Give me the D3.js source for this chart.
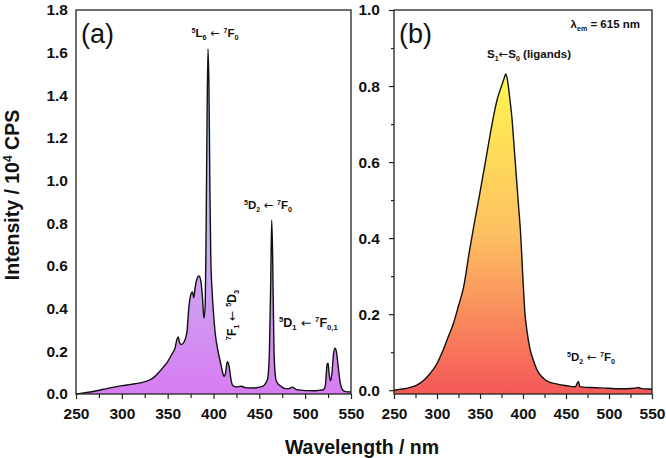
<!DOCTYPE html>
<html lang="en">
<head>
<meta charset="UTF-8">
<title>Excitation spectra</title>
<script src="https://d3js.org/d3.v7.min.js"></script>
<style>
  body { margin: 0; background: #fff; }
  svg { font-family: Arial, "Liberation Sans", sans-serif; }
</style>
</head>
<body>
<svg></svg>
<script>
    // (a) excitation spectrum, intensity / 10^4 CPS
    const wlA = [250, 255, 260, 270, 280, 290, 300, 310, 320, 330, 335, 340, 345, 350, 355, 358, 360, 361.5, 363, 365,
        368, 371, 373, 375, 377, 378.5, 380, 382, 384, 386, 388, 389.5, 391, 392, 393, 394, 395, 396, 397, 398.5,
        400, 402, 405, 408, 410, 411.5, 413, 415, 417, 419, 421, 425, 430, 435, 440, 445, 450, 455, 459, 461,
        462.5, 463.5, 464.5, 466, 468, 470, 474, 478, 482, 486, 490, 495, 500, 505, 510, 515, 520, 522, 524, 525,
        526, 527.5, 529, 531, 532.5, 534, 536, 538, 540, 543, 546, 550];
    const intA = [0.000, 0.003, 0.006, 0.013, 0.022, 0.031, 0.039, 0.045, 0.052, 0.065, 0.078, 0.100, 0.125, 0.152, 0.190, 0.215, 0.255, 0.268, 0.240, 0.232,
        0.245, 0.290, 0.400, 0.462, 0.478, 0.452, 0.500, 0.540, 0.553, 0.535, 0.450, 0.355, 0.420, 0.800, 1.300, 1.618, 1.450, 1.000, 0.650, 0.480,
        0.380, 0.280, 0.200, 0.140, 0.100, 0.082, 0.095, 0.151, 0.130, 0.070, 0.040, 0.033, 0.036, 0.030, 0.028, 0.028, 0.032, 0.040, 0.070, 0.200,
        0.550, 0.815, 0.650, 0.200, 0.070, 0.050, 0.035, 0.025, 0.025, 0.032, 0.022, 0.018, 0.016, 0.016, 0.015, 0.017, 0.020, 0.040, 0.140, 0.144,
        0.100, 0.062, 0.090, 0.190, 0.215, 0.200, 0.130, 0.060, 0.025, 0.012, 0.010, 0.010];

    // (b) excitation spectrum, lambda_em = 615 nm
    const wlB = [250, 260, 270, 276, 285, 292, 300, 307, 313, 319, 325, 331, 338, 344, 350, 358, 364, 370, 375, 378,
        380, 382, 385, 387, 390, 393, 395, 397, 400, 402, 405, 408, 412, 417, 424, 430, 440, 447, 455, 461,
        463, 464.5, 466, 470, 480, 490, 500, 510, 520, 530, 534, 538, 545, 550];
    const intB = [0.000, 0.003, 0.008, 0.013, 0.027, 0.044, 0.070, 0.105, 0.140, 0.175, 0.222, 0.272, 0.370, 0.447, 0.520, 0.623, 0.700, 0.765, 0.800, 0.820,
        0.832, 0.815, 0.760, 0.720, 0.630, 0.540, 0.480, 0.420, 0.290, 0.210, 0.150, 0.110, 0.079, 0.050, 0.031, 0.022, 0.016, 0.013, 0.010, 0.009,
        0.018, 0.023, 0.010, 0.008, 0.007, 0.006, 0.005, 0.004, 0.004, 0.005, 0.007, 0.004, 0.003, 0.003];

    const xTicks = [250, 300, 350, 400, 450, 500, 550];
    const yTicksA = [0.0, 0.2, 0.4, 0.6, 0.8, 1.0, 1.2, 1.4, 1.6, 1.8];
    const yTicksB = [0.0, 0.2, 0.4, 0.6, 0.8, 1.0];

    const width = 666, height = 458;
    const svg = d3.select("svg").attr("width", width).attr("height", height);

    const plotTop = 10, plotBottom = 394;

    // gradients
    const defs = svg.append("defs");
    function gradient(id, y1, y2, stops) {
        const g = defs.append("linearGradient").attr("id", id)
            .attr("gradientUnits", "userSpaceOnUse")
            .attr("x1", 0).attr("x2", 0).attr("y1", y1).attr("y2", y2);
        stops.forEach(s => g.append("stop").attr("offset", s[0]).attr("stop-color", s[1]));
    }

    // text with sub/superscripts, "arr" parts use a font with a proper long arrow
    function rich(parent, x, y, parts, size, anchor, rot) {
        const t = parent.append("text")
            .attr("x", x).attr("y", y)
            .attr("text-anchor", anchor || "start")
            .attr("font-weight", "bold")
            .attr("font-size", size)
            .attr("fill", "#111");
        if (rot) t.attr("transform", `rotate(${rot},${x},${y})`);
        let shift = 0;
        parts.forEach(p => {
            let s = 0, fs = size;
            if (p[1] === "sup") { s = -size * 0.38; fs = size * 0.62; }
            if (p[1] === "sub") { s = size * 0.25; fs = size * 0.62; }
            const ts = t.append("tspan").attr("dy", s - shift).attr("font-size", fs).text(p[0]);
            if (p[1] === "arr") ts.attr("font-family", "'DejaVu Sans', sans-serif").attr("font-weight", "normal");
            shift = s;
        });
        return t;
    }

    function panel(cfg) {
        const x = d3.scaleLinear().domain([250, 550]).range([cfg.left, cfg.right]);
        const y = d3.scaleLinear().domain(cfg.yDomain).range([plotBottom, plotTop]);
        const data = cfg.wl.map((w, i) => ({w: w, v: cfg.val[i]}));
        const g = svg.append("g");

        gradient(cfg.id, y(cfg.gradTop), plotBottom, cfg.stops);

        const area = d3.area().x(d => x(d.w)).y0(plotBottom).y1(d => y(d.v)).curve(d3.curveMonotoneX);
        const line = d3.line().x(d => x(d.w)).y(d => y(d.v)).curve(d3.curveMonotoneX);

        g.append("path").datum(data).attr("d", area).attr("fill", `url(#${cfg.id})`);
        g.append("path").datum(data).attr("d", line)
            .attr("fill", "none").attr("stroke", "#111").attr("stroke-width", 1.4);

        // frame
        g.append("rect").attr("x", cfg.left).attr("y", plotTop)
            .attr("width", cfg.right - cfg.left).attr("height", plotBottom - plotTop)
            .attr("fill", "none").attr("stroke", "#222").attr("stroke-width", 1.3);

        // x axis
        const xAxis = d3.axisBottom(x).tickValues(xTicks).tickSize(5).tickPadding(9)
            .tickFormat(d3.format("d"));
        const ax = g.append("g").attr("transform", `translate(0,${plotBottom})`).call(xAxis);
        ax.select(".domain").remove();
        ax.selectAll("text").attr("font-size", 15.5).attr("font-weight", "bold")
            .attr("font-family", "Arial, 'Liberation Sans', sans-serif").attr("fill", "#111");
        ax.selectAll("line").attr("stroke", "#222").attr("stroke-width", 1.2);
        const minor = d3.axisBottom(x).tickValues(d3.range(275, 550, 50)).tickSize(4).tickFormat("");
        const mx = g.append("g").attr("transform", `translate(0,${plotBottom})`).call(minor);
        mx.select(".domain").remove();
        mx.selectAll("line").attr("stroke", "#222").attr("stroke-width", 1.2);

        // y axis
        const yAxis = d3.axisLeft(y).tickValues(cfg.yTicks).tickSize(cfg.yTickSize)
            .tickPadding(cfg.yPad).tickFormat(d3.format(".1f"));
        const ay = g.append("g").attr("transform", `translate(${cfg.left},0)`).call(yAxis);
        ay.select(".domain").remove();
        ay.selectAll("text").attr("font-size", 15.5).attr("font-weight", "bold")
            .attr("font-family", "Arial, 'Liberation Sans', sans-serif").attr("fill", "#111");
        ay.selectAll("line").attr("stroke", "#222").attr("stroke-width", 1.2);
        if (cfg.yMinor) {
            const ym = d3.axisLeft(y).tickValues(cfg.yMinor).tickSize(3).tickFormat("");
            const aym = g.append("g").attr("transform", `translate(${cfg.left},0)`).call(ym);
            aym.select(".domain").remove();
            aym.selectAll("line").attr("stroke", "#222").attr("stroke-width", 1.2);
        }

        // panel label
        g.append("text").attr("x", cfg.left + 5).attr("y", 43)
            .attr("font-size", 27).attr("fill", "#111").text(cfg.label);
        return g;
    }

    const gA = panel({
        id: "gradA", left: 76, right: 351, yDomain: [0, 1.8], yTicks: yTicksA,
        yTickSize: 0, yPad: 8, wl: wlA, val: intA, label: "(a)", gradTop: 1.6,
        stops: [[0, "#a8dcf0"], [0.55, "#c9b2f2"], [1, "#d77cf2"]]
    });
    const gB = panel({
        id: "gradB", left: 394, right: 652, yDomain: [-0.01, 1.0], yTicks: yTicksB,
        yTickSize: 5, yPad: 9, yMinor: [0.1, 0.3, 0.5, 0.7, 0.9], wl: wlB, val: intB, label: "(b)", gradTop: 0.83,
        stops: [[0, "#fff650"], [0.5, "#fdc062"], [1, "#f55858"]]
    });

    const arrow = [" \u2190 ", "arr"];

    // annotations (a)
    rich(gA, 215, 37, [["5", "sup"], ["L"], ["6", "sub"], arrow, ["7", "sup"], ["F"], ["0", "sub"]], 11.5, "middle");
    rich(gA, 268, 209, [["5", "sup"], ["D"], ["2", "sub"], arrow, ["7", "sup"], ["F"], ["0", "sub"]], 11.5, "middle");
    rich(gA, 236, 315, [["7", "sup"], ["F"], ["1", "sub"], arrow, ["5", "sup"], ["D"], ["3", "sub"]], 12, "middle", -90);
    rich(gA, 279, 327, [["5", "sup"], ["D"], ["1", "sub"], arrow, ["7", "sup"], ["F"], ["0,1", "sub"]], 12.5, "start");

    // annotations (b)
    rich(gB, 640, 28, [["\u03bb"], ["em", "sub"], [" = 615 nm"]], 11.5, "end");
    rich(gB, 529, 58, [["S"], ["1", "sub"], ["\u2190", "arr"], ["S"], ["0", "sub"], [" (ligands)"]], 11.5, "middle");
    rich(gB, 591, 361, [["5", "sup"], ["D"], ["2", "sub"], arrow, ["7", "sup"], ["F"], ["0", "sub"]], 11.5, "middle");

    // axis titles
    svg.append("text").attr("x", 362).attr("y", 454).attr("text-anchor", "middle")
        .attr("font-size", 19.5).attr("font-weight", "bold").attr("fill", "#111")
        .text("Wavelength / nm");
    const yt = svg.append("text").attr("transform", "translate(19,195) rotate(-90)")
        .attr("text-anchor", "middle").attr("font-size", 19.5).attr("font-weight", "bold").attr("fill", "#111");
    yt.append("tspan").text("Intensity / 10");
    yt.append("tspan").attr("dy", -7).attr("font-size", 12).text("4");
    yt.append("tspan").attr("dy", 7).text(" CPS");
</script>
</body>
</html>
